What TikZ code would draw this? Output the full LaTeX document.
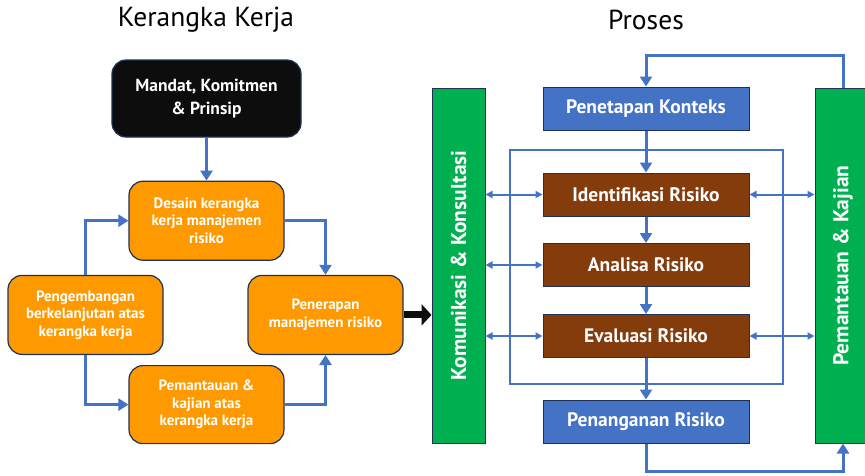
\documentclass[tikz,border=0pt]{standalone}
\usepackage{fontspec}
\setmainfont{PT Sans}
\usetikzlibrary{arrows.meta,positioning}
\definecolor{kk-orange}{HTML}{FF9900}
\definecolor{kk-blue}{HTML}{4472C4}
\definecolor{kk-brown}{HTML}{843C0C}
\definecolor{kk-green}{HTML}{00B050}
\definecolor{kk-border}{HTML}{1F3157}
\definecolor{kk-black}{HTML}{0D0D0D}
\tikzset{kk-line/.style={line width=3pt, draw=kk-blue}}
\tikzset{kk-thin/.style={line width=2pt, draw=kk-blue}}
\tikzset{>={Triangle[width=12pt,length=10pt]}}
\tikzset{kk-box/.style={draw=kk-border, line width=1.2pt, rounded corners=14pt, fill=kk-orange, text=white, font=\bfseries\fontsize{15}{17.5}\selectfont, align=center, minimum width=155pt, minimum height=79pt, inner sep=0}}
\tikzset{pr-box/.style={draw=kk-border, line width=1pt, fill=kk-blue, text=white, font=\bfseries\fontsize{19.5}{22}\selectfont, minimum width=206pt, minimum height=43pt, inner sep=0}}
\tikzset{pr-bar/.style={draw=kk-border, line width=1pt, fill=kk-green, text=white, font=\bfseries\fontsize{21.5}{24}\selectfont, minimum width=355pt, minimum height=53pt, inner sep=0, rotate=90}}
\tikzset{title/.style={font=\fontsize{27.5}{30}\selectfont, text=black}}

\begin{document}
\begin{tikzpicture}[x=1pt, y=-1pt]
            \useasboundingbox (0,0) rectangle (865,475);

            % kerangka kerja
            \node[title] (title-kk) at (206,20) {Kerangka Kerja};
            \node[kk-box, fill=kk-black, font=\bfseries\fontsize{17.5}{23}\selectfont, minimum width=189pt, minimum height=77pt] (mandat) at (206.5,98.5) {Mandat, Komitmen\\\& Prinsip};

            \node[kk-box, below=43pt of mandat] (desain) {Desain kerangka\\kerja manajemen\\risiko};
            \node[kk-box, below=14pt of desain.south, xshift=-121pt] (pengembangan) {Pengembangan\\berkelanjutan atas\\kerangka kerja};
            \node[kk-box, below=14pt of desain.south, xshift=119pt] (penerapan) {Penerapan\\manajemen risiko};
            \node[kk-box, below=10pt of pengembangan.south, xshift=121pt, minimum height=78pt] (pemantauan) {Pemantauan \&\\kajian atas\\kerangka kerja};

            \draw[->, kk-line] (mandat) -- (desain);
            \draw[->, kk-line] (desain.east) -| (penerapan.north);
            \draw[->, kk-line] (pengembangan.north) |- (desain.west);
            \draw[->, kk-line] (pengembangan.south) |- (pemantauan.west);
            \draw[->, kk-line] (pemantauan.east) -| (penerapan.south);

            % proses
            \node[title] (title-pr) at (646,20) {Proses};
            \node[pr-box] (penetapan) at (646,108.5) {Penetapan Konteks};
            \node[pr-box, fill=kk-brown] (identifikasi) at (646,194.5) {Identifikasi Risiko};
            \node[pr-box, fill=kk-brown] (analisa) at (646,265) {Analisa Risiko};
            \node[pr-box, fill=kk-brown] (evaluasi) at (646,336) {Evaluasi Risiko};
            \node[pr-box] (penanganan) at (646,421.5) {Penanganan Risiko};

            \node[pr-bar] (komunikasi) at (458.5,265.5) {Komunikasi \& Konsultasi};
            \node[pr-bar, minimum height=56pt] (kajian) at (843,265.5) {Pemantauan \& Kajian};

            \draw[kk-thin] (510,150) rectangle (783,384);

            \draw[line width=7pt, draw=kk-black, -{Triangle[width=21pt,length=10pt]}] (penerapan.east) -- (komunikasi.north |- penerapan.east);

            \draw[->, kk-line] (penetapan) -- (identifikasi);
            \draw[->, kk-line] (identifikasi) -- (analisa);
            \draw[->, kk-line] (analisa) -- (evaluasi);
            \draw[->, kk-line] (evaluasi) -- (penanganan);
            \draw[->, kk-line] (penanganan.south) -- ++(0,28) -| (kajian.west);
            \draw[->, kk-line] (kajian.east) -- ++(0,-32) -| (penetapan.north);

            \draw[<->, kk-thin, >={Triangle[width=7pt,length=7pt]}] (komunikasi.south |- identifikasi.west) -- (identifikasi.west);
            \draw[<->, kk-thin, >={Triangle[width=7pt,length=7pt]}] (komunikasi.south |- analisa.west) -- (analisa.west);
            \draw[<->, kk-thin, >={Triangle[width=7pt,length=7pt]}] (komunikasi.south |- evaluasi.west) -- (evaluasi.west);
            \draw[<->, kk-thin, >={Triangle[width=7pt,length=7pt]}] (identifikasi.east) -- (kajian.north |- identifikasi.east);
            \draw[<->, kk-thin, >={Triangle[width=7pt,length=7pt]}] (evaluasi.east) -- (kajian.north |- evaluasi.east);
        \end{tikzpicture}
\end{document}
